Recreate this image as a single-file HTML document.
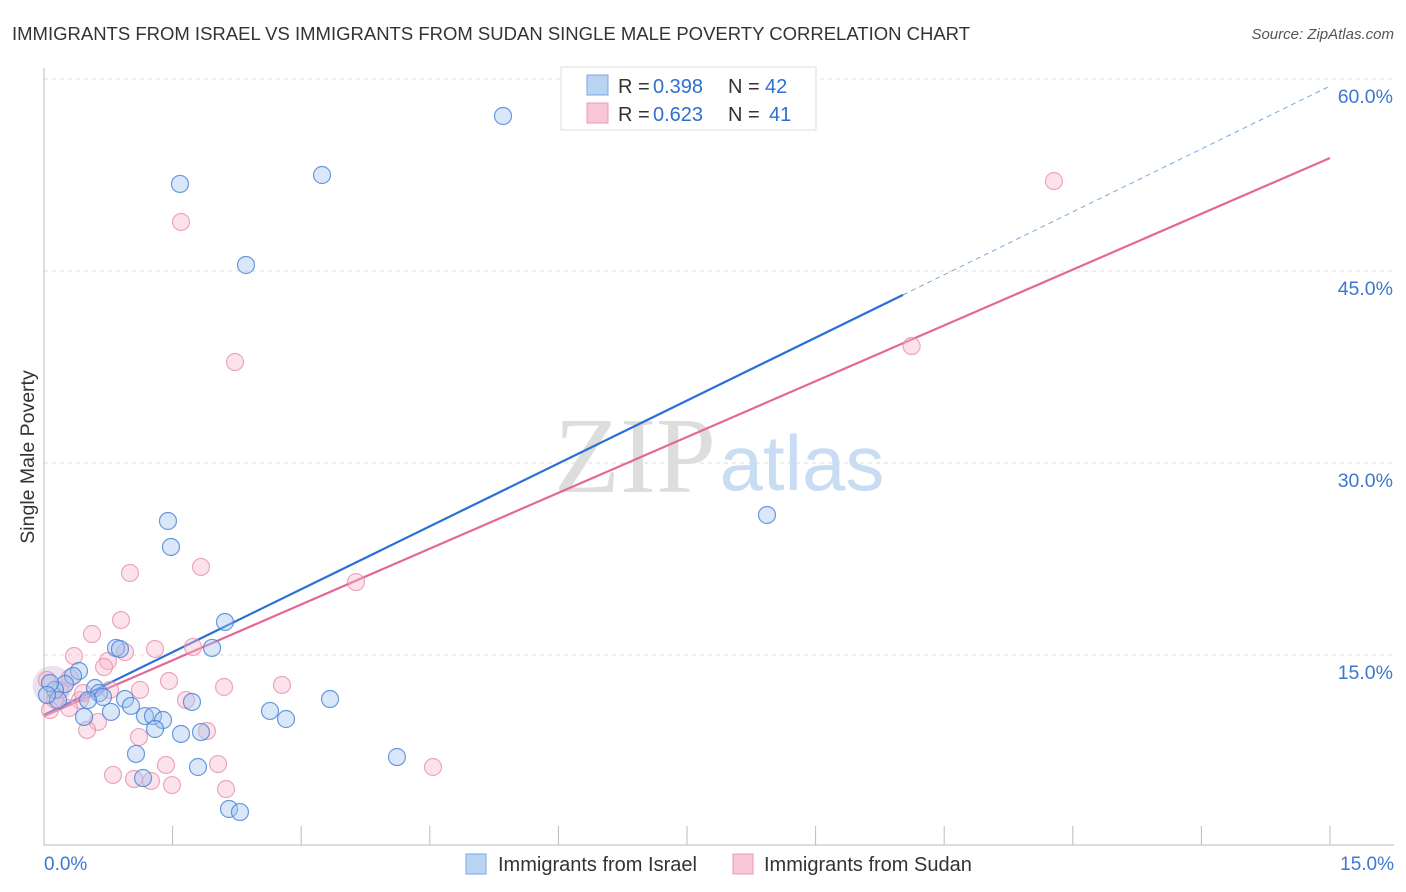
<!DOCTYPE html>
<html><head><meta charset="utf-8"><style>
body{margin:0;background:#fff;font-family:"Liberation Sans",sans-serif;}
svg{display:block}
</style></head><body>
<svg id="chart" width="1406" height="892" xmlns="http://www.w3.org/2000/svg">
<text x="12" y="40" font-size="18.6" fill="#333" textLength="958" lengthAdjust="spacingAndGlyphs">IMMIGRANTS FROM ISRAEL VS IMMIGRANTS FROM SUDAN SINGLE MALE POVERTY CORRELATION CHART</text>
<text x="1394" y="39" font-size="15" fill="#555" font-style="italic" text-anchor="end">Source: ZipAtlas.com</text>
<text x="34" y="457" font-size="19.5" fill="#333" text-anchor="middle" transform="rotate(-90 34 457)">Single Male Poverty</text>
<g>
<text x="635" y="492" font-size="108" font-family="Liberation Serif,serif" fill="#ddd" text-anchor="middle">ZIP</text>
<text x="802" y="490" font-size="78" fill="#c8dcf3" text-anchor="middle">atlas</text>
</g>
<g id="grid"></g><g id="axes"></g><g id="trend"></g><g id="pts"></g>
<g>
<rect x="561" y="67" width="255" height="63" fill="#fff" stroke="#ddd"/>
<rect x="587" y="75" width="21" height="20" fill="#b9d3f3" stroke="#7aa8e0"/>
<rect x="587" y="103" width="21" height="20" fill="#f9c6d5" stroke="#eb9ab3"/>
<text x="618" y="93" font-size="20" fill="#333">R =</text>
<text x="653" y="93" font-size="20" fill="#2f6fcf">0.398</text>
<text x="728" y="93" font-size="20" fill="#333">N =</text>
<text x="765" y="93" font-size="20" fill="#2f6fcf">42</text>
<text x="618" y="121" font-size="20" fill="#333">R =</text>
<text x="653" y="121" font-size="20" fill="#2f6fcf">0.623</text>
<text x="728" y="121" font-size="20" fill="#333">N =</text>
<text x="769" y="121" font-size="20" fill="#2f6fcf">41</text>
</g>
<g>
<rect x="466" y="854" width="20" height="20" fill="#b9d3f3" stroke="#7aa8e0"/>
<text x="498" y="871" font-size="20" fill="#333">Immigrants from Israel</text>
<rect x="733" y="854" width="20" height="20" fill="#f9c6d5" stroke="#eb9ab3"/>
<text x="764" y="871" font-size="20" fill="#333">Immigrants from Sudan</text>
</g>
</svg>
<script>
const yTicks=[15,30,45,60];
const yTickLabels=["15.0%","30.0%","45.0%","60.0%"];
const xTickLabels=["0.0%","15.0%"];
const israelX=[5.354,1.586,3.243,2.356,8.433,1.446,1.481,2.111,1.960,0.840,0.886,0.408,0.338,0.245,0.595,0.642,0.128,0.163,0.688,0.945,0.513,1.015,0.781,0.467,1.178,1.271,1.388,1.295,1.726,1.598,1.831,2.636,2.823,3.336,1.073,1.155,1.796,4.117,2.158,2.286,0.070,0.035];
const israelY=[57.11,51.80,52.50,45.47,25.94,25.47,23.44,17.58,15.55,15.55,15.47,13.75,13.36,12.73,12.42,12.03,12.27,11.48,11.72,11.56,11.48,11.02,10.55,10.16,10.23,10.23,9.92,9.22,11.33,8.83,8.98,10.63,10.00,11.56,7.27,5.39,6.25,7.03,2.97,2.73,12.81,11.88];
const sudanX=[11.78,1.598,2.228,10.12,3.639,1.003,1.831,0.898,0.560,0.350,1.295,1.738,0.945,0.746,0.700,2.776,1.458,2.100,1.656,0.420,0.455,0.292,0.630,0.502,1.901,1.108,1.423,2.030,0.805,1.050,1.248,1.493,2.123,4.537,0.035,0.128,0.187,0.303,0.770,1.120,0.070];
const sudanY=[52.03,48.83,37.89,39.14,20.70,21.41,21.88,17.73,16.64,14.92,15.47,15.63,15.23,14.53,14.06,12.66,12.97,12.50,11.48,11.48,12.03,10.86,9.77,9.14,9.06,8.59,6.41,6.48,5.63,5.31,5.16,4.84,4.53,6.25,13.05,11.48,12.27,13.20,12.27,12.27,10.70];
const israelTrend=[10.31,59.45,10.02];
const sudanTrend=[10.23,53.83];

const NS="http://www.w3.org/2000/svg";
const X0=44,X1=1330,YB=847,PX=192/15;
const sx=v=>X0+(v/15)*(X1-X0);
const sy=v=>YB-v*PX;
function mk(tag,attrs,parent){const e=document.createElementNS(NS,tag);for(const k in attrs)e.setAttribute(k,attrs[k]);parent.appendChild(e);return e;}
const grid=document.getElementById('grid'),axes=document.getElementById('axes'),trend=document.getElementById('trend'),pts=document.getElementById('pts');
yTicks.forEach((t,i)=>{
 const l=mk('line',{x1:X0,x2:1394,y1:sy(t),y2:sy(t),stroke:'#ddd','stroke-dasharray':'4 4'},grid);
 
 
 const tx=mk('text',{x:1393,y:sy(t)+24,'font-size':19.5,fill:'#3a78d4','text-anchor':'end'},axes);
 tx.textContent=yTickLabels[i];
 
 
});
const ax=mk('line',{x1:X0,x2:X0,y1:68,y2:845,stroke:'#bbb'},axes);


const bx=mk('line',{x1:X0,x2:1394,y1:845,y2:845,stroke:'#bbb'},axes);


for(let i=1;i<=10;i++){
 const t=mk('line',{x1:sx(i*1.5),x2:sx(i*1.5),y1:826,y2:845,stroke:'#bbb'},axes);
 
 
}
[[0,'start',X0],[15,'end',1394]].forEach((d,i)=>{
 const tx=mk('text',{x:d[2],y:870,'font-size':19,fill:'#3a78d4','text-anchor':d[1]},axes);
 tx.textContent=xTickLabels[i];
 
 
});
const ib=v=>israelTrend[0]+(israelTrend[1]-israelTrend[0])*v/15;
const t1=mk('line',{x1:sx(0),y1:sy(ib(0)),x2:sx(israelTrend[2]),y2:sy(ib(israelTrend[2])),stroke:'#2a6fd6','stroke-width':2.2},trend);


const t2=mk('line',{x1:sx(israelTrend[2]),y1:sy(ib(israelTrend[2])),x2:sx(15),y2:sy(ib(15)),stroke:'#7aa8e0','stroke-width':1,'stroke-dasharray':'5 4'},trend);


const t3=mk('line',{x1:sx(0),y1:sy(sudanTrend[0]),x2:sx(15),y2:sy(sudanTrend[1]),stroke:'#e4679a','stroke-width':2.2},trend);


const big=mk('circle',{cx:sx(0.1),cy:sy(12.6),r:20,fill:'rgba(200,170,210,0.35)',stroke:'none'},pts);


sudanX.forEach((v,i)=>{
 const c=mk('circle',{cx:sx(v),cy:sy(sudanY[i]),r:8.5,fill:'rgba(247,182,202,0.4)',stroke:'rgba(232,140,170,0.75)','stroke-width':1.2},pts);
 
 
});
israelX.forEach((v,i)=>{
 const c=mk('circle',{cx:sx(v),cy:sy(israelY[i]),r:8.5,fill:'rgba(160,196,240,0.4)',stroke:'rgba(70,130,215,0.8)','stroke-width':1.2},pts);
 
 
});
</script>
</body></html>
